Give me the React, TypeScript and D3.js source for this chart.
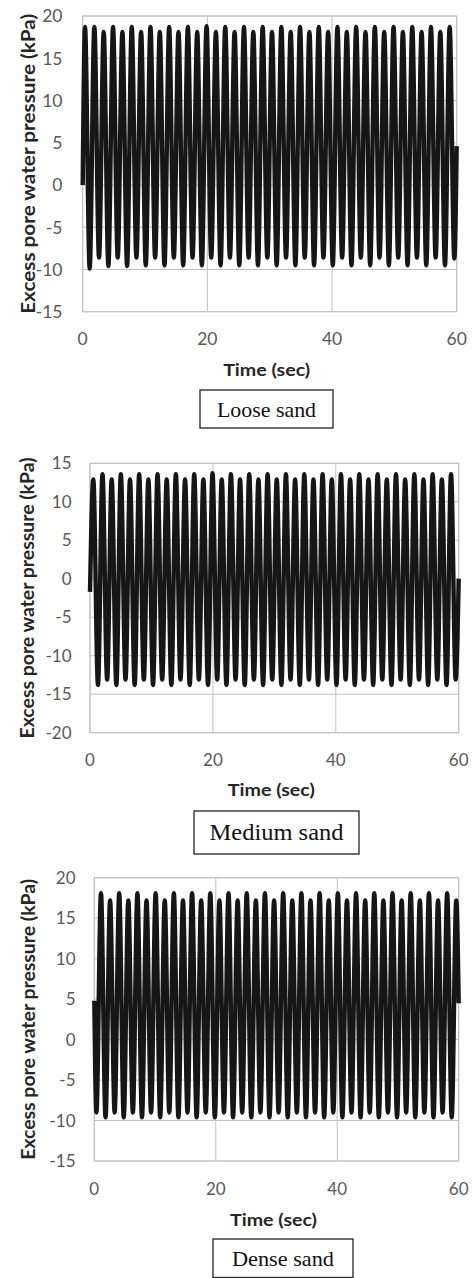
import React from 'react';
import * as d3 from 'd3';

// ---------- data ----------
const X_TICKS = [0, 20, 40, 60];
const Y_TICKS_LOOSE = [-15, -10, -5, 0, 5, 10, 15, 20];
const Y_TICKS_MEDIUM = [-20, -15, -10, -5, 0, 5, 10, 15];
const Y_TICKS_DENSE = [-15, -10, -5, 0, 5, 10, 15, 20];

const X_TITLE = 'Time (sec)';
const Y_TITLE = 'Excess pore water pressure (kPa)';
const LABELS = ['Loose sand', 'Medium sand', 'Dense sand'];

// Loose sand: start / end points, peaks and troughs (time s, kPa)
const LOOSE_START: [number, number] = [0, 0];
const LOOSE_END: [number, number] = [60, 4.6];
const LOOSE_PEAK_T = [0.37, 1.87, 3.37, 4.87, 6.37, 7.87, 9.37, 10.87, 12.37, 13.87, 15.37, 16.87, 18.37, 19.87, 21.37, 22.87, 24.37, 25.87, 27.37, 28.87, 30.37, 31.87, 33.37, 34.87, 36.37, 37.87, 39.37, 40.87, 42.37, 43.87, 45.37, 46.87, 48.37, 49.87, 51.37, 52.87, 54.37, 55.87, 57.37, 58.87];
const LOOSE_PEAK_V = [18.7, 18.7, 18.1, 18.7, 18.1, 18.7, 18.1, 18.7, 18.1, 18.7, 18.1, 18.7, 18.1, 18.8, 18.1, 18.7, 18.1, 18.7, 18.1, 18.7, 18.1, 18.7, 18.1, 18.7, 18.1, 18.7, 18.1, 18.7, 18.1, 18.7, 18.1, 18.7, 18.1, 18.7, 18.1, 18.7, 18.1, 18.7, 18.1, 18.7];
const LOOSE_TROUGH_T = [1.12, 2.62, 4.12, 5.62, 7.12, 8.62, 10.12, 11.62, 13.12, 14.62, 16.12, 17.62, 19.12, 20.62, 22.12, 23.62, 25.12, 26.62, 28.12, 29.62, 31.12, 32.62, 34.12, 35.62, 37.12, 38.62, 40.12, 41.62, 43.12, 44.62, 46.12, 47.62, 49.12, 50.62, 52.12, 53.62, 55.12, 56.62, 58.12, 59.62];
const LOOSE_TROUGH_V = [-9.9, -8.6, -9.6, -8.6, -9.6, -8.6, -9.5, -8.6, -9.5, -8.6, -9.5, -8.6, -9.5, -8.6, -9.5, -8.6, -9.5, -8.6, -9.5, -8.6, -9.5, -8.6, -9.5, -8.6, -9.5, -8.6, -9.5, -8.6, -9.5, -8.6, -9.5, -8.6, -9.5, -8.6, -9.5, -8.6, -9.5, -8.6, -9.5, -8.7];

// Medium sand
const MEDIUM_START: [number, number] = [0, -1.7];
const MEDIUM_END: [number, number] = [60, 0];
const MEDIUM_PEAK_T = [0.54, 2.03, 3.53, 5.02, 6.51, 8.0, 9.5, 10.99, 12.48, 13.97, 15.47, 16.96, 18.45, 19.94, 21.44, 22.93, 24.42, 25.91, 27.41, 28.9, 30.39, 31.88, 33.38, 34.87, 36.36, 37.85, 39.35, 40.84, 42.33, 43.82, 45.32, 46.81, 48.3, 49.79, 51.29, 52.78, 54.27, 55.76, 57.26, 58.75];
const MEDIUM_PEAK_V = [12.9, 13.6, 12.9, 13.6, 12.9, 13.6, 12.9, 13.6, 12.9, 13.6, 12.9, 13.6, 12.9, 13.7, 12.9, 13.6, 12.9, 13.6, 12.9, 13.6, 12.9, 13.6, 12.9, 13.6, 12.9, 13.6, 12.9, 13.6, 12.9, 13.6, 12.9, 13.6, 12.9, 13.6, 12.9, 13.6, 12.9, 13.6, 12.9, 13.6];
const MEDIUM_TROUGH_T = [1.3, 2.79, 4.29, 5.78, 7.27, 8.76, 10.26, 11.75, 13.24, 14.73, 16.23, 17.72, 19.21, 20.7, 22.2, 23.69, 25.18, 26.67, 28.17, 29.66, 31.15, 32.64, 34.14, 35.63, 37.12, 38.61, 40.11, 41.6, 43.09, 44.58, 46.08, 47.57, 49.06, 50.55, 52.05, 53.54, 55.03, 56.52, 58.02, 59.51];
const MEDIUM_TROUGH_V = [-13.8, -13.1, -13.8, -13.1, -13.8, -13.1, -13.8, -13.1, -13.8, -13.1, -13.8, -13.1, -13.8, -13.1, -13.8, -13.1, -13.8, -13.1, -13.8, -13.1, -13.8, -13.1, -13.8, -13.1, -13.8, -13.1, -13.8, -13.1, -13.8, -13.1, -13.8, -13.1, -13.8, -13.1, -13.8, -13.1, -13.8, -13.1, -13.8, -13.1];

// Dense sand
const DENSE_START: [number, number] = [0, 4.8];
const DENSE_END: [number, number] = [60, 4.5];
const DENSE_PEAK_T = [1.1, 2.6, 4.1, 5.6, 7.1, 8.6, 10.1, 11.6, 13.1, 14.6, 16.1, 17.6, 19.1, 20.6, 22.1, 23.6, 25.1, 26.6, 28.1, 29.6, 31.1, 32.6, 34.1, 35.6, 37.1, 38.6, 40.1, 41.6, 43.1, 44.6, 46.1, 47.6, 49.1, 50.6, 52.1, 53.6, 55.1, 56.6, 58.1, 59.6];
const DENSE_PEAK_V = [18.1, 17.2, 18.1, 17.2, 18.1, 17.2, 18.1, 17.2, 18.1, 17.2, 18.1, 17.2, 18.1, 17.2, 18.1, 17.2, 18.1, 17.2, 18.1, 17.2, 18.1, 17.2, 18.1, 17.2, 18.1, 17.2, 18.1, 17.2, 18.1, 17.2, 18.1, 17.2, 18.1, 17.2, 18.1, 17.2, 18.1, 17.2, 18.1, 17.2];
const DENSE_TROUGH_T = [0.35, 1.85, 3.35, 4.85, 6.35, 7.85, 9.35, 10.85, 12.35, 13.85, 15.35, 16.85, 18.35, 19.85, 21.35, 22.85, 24.35, 25.85, 27.35, 28.85, 30.35, 31.85, 33.35, 34.85, 36.35, 37.85, 39.35, 40.85, 42.35, 43.85, 45.35, 46.85, 48.35, 49.85, 51.35, 52.85, 54.35, 55.85, 57.35, 58.85];
const DENSE_TROUGH_V = [-9.0, -9.6, -9.0, -9.6, -9.0, -9.6, -9.0, -9.6, -9.0, -9.6, -9.0, -9.6, -9.0, -9.6, -9.0, -9.6, -9.0, -9.6, -9.0, -9.6, -9.0, -9.6, -9.0, -9.6, -9.0, -9.6, -9.0, -9.6, -9.0, -9.6, -9.0, -9.6, -9.0, -9.6, -9.0, -9.6, -9.0, -9.6, -9.0, -9.6];

// ---------- build series ----------
function buildSeries(start: [number, number], end: [number, number], pt: number[], pv: number[], tt: number[], tv: number[]): [number, number][] {
  const pts: [number, number][] = [start, end];
  pt.forEach((t, i) => pts.push([t, pv[i]]));
  tt.forEach((t, i) => pts.push([t, tv[i]]));
  pts.sort((a, b) => a[0] - b[0]);
  return pts;
}

const SERIES = [
  buildSeries(LOOSE_START, LOOSE_END, LOOSE_PEAK_T, LOOSE_PEAK_V, LOOSE_TROUGH_T, LOOSE_TROUGH_V),
  buildSeries(MEDIUM_START, MEDIUM_END, MEDIUM_PEAK_T, MEDIUM_PEAK_V, MEDIUM_TROUGH_T, MEDIUM_TROUGH_V),
  buildSeries(DENSE_START, DENSE_END, DENSE_PEAK_T, DENSE_PEAK_V, DENSE_TROUGH_T, DENSE_TROUGH_V),
];
const Y_TICKS = [Y_TICKS_LOOSE, Y_TICKS_MEDIUM, Y_TICKS_DENSE];

// ---------- layout ----------
const LAYOUT = [
  { left: 82.7, right: 456.7, top: 16, bottom: 311.7, tickRight: 62.5, tickFs: 17.5, xTickY: 339, xTitleY: 369.5, yTitleX: 28.5, yTitleLen: 300, box: { x: 200, y: 390, w: 133, h: 38 }, labelBase: 417.3, labelLen: 99, labelFs: 21.5 },
  { left: 90, right: 458.7, top: 463.3, bottom: 732.7, tickRight: 71.5, tickFs: 17, xTickY: 760, xTitleY: 790, yTitleX: 27.5, yTitleLen: 281, box: { x: 194, y: 811, w: 165, h: 43 }, labelBase: 840, labelLen: 134, labelFs: 22.5 },
  { left: 94.3, right: 458.7, top: 877.7, bottom: 1161, tickRight: 75.5, tickFs: 17, xTickY: 1189, xTitleY: 1219.5, yTitleX: 28.5, yTitleLen: 281, box: { x: 213, y: 1239, w: 140, h: 38.5 }, labelBase: 1266, labelLen: 102, labelFs: 21.5 },
];

const SANS = 'Lato, "Open Sans", sans-serif';
const SERIF = '"Liberation Serif", "DejaVu Serif", serif';
const GRID = '#c0c0c0';

function Panel({ idx }: { idx: number }) {
  const L = LAYOUT[idx];
  const ticks = Y_TICKS[idx];
  const x = d3.scaleLinear().domain([0, 60]).range([L.left, L.right]);
  const y = d3.scaleLinear().domain([ticks[0], ticks[ticks.length - 1]]).range([L.bottom, L.top]);
  const line = d3.line<[number, number]>().x(d => x(d[0])).y(d => y(d[1])).curve(d3.curveMonotoneX);
  const midY = (L.top + L.bottom) / 2;
  const midX = (L.left + L.right) / 2;
  return (
    <g>
      {ticks.map(v => (
        <line key={'h' + v} x1={L.left} x2={L.right} y1={y(v)} y2={y(v)} stroke={GRID} strokeWidth={1} />
      ))}
      {X_TICKS.map(v => (
        <line key={'v' + v} x1={x(v)} x2={x(v)} y1={L.top} y2={L.bottom} stroke={GRID} strokeWidth={1} />
      ))}
      <rect x={L.left} y={L.top} width={L.right - L.left} height={L.bottom - L.top} fill="none" stroke={GRID} strokeWidth={1} />
      <path d={line(SERIES[idx]) || ''} fill="none" stroke="#161616" strokeWidth={4.4} strokeLinejoin="round" />
      {ticks.map(v => (
        <text key={'yt' + v} x={L.tickRight} y={y(v)} dy="0.36em" textAnchor="end" fontFamily={SANS} fontSize={L.tickFs} fill="#595959">{v}</text>
      ))}
      {X_TICKS.map(v => (
        <text key={'xt' + v} x={x(v)} y={L.xTickY} dy="0.36em" textAnchor="middle" fontFamily={SANS} fontSize={L.tickFs} fill="#595959">{v}</text>
      ))}
      <text x={midX - 3} y={L.xTitleY} dy="0.36em" textAnchor="middle" fontFamily={SANS} fontWeight="bold" fontSize={17.5} fill="#262626" textLength={87} lengthAdjust="spacingAndGlyphs">{X_TITLE}</text>
      <text transform={`translate(${L.yTitleX},${midY}) rotate(-90)`} x={0} y={0} dy="0.36em" textAnchor="middle" fontFamily={SANS} fontWeight="bold" fontSize={19} fill="#262626" textLength={L.yTitleLen} lengthAdjust="spacingAndGlyphs">{Y_TITLE}</text>
      <rect x={L.box.x} y={L.box.y} width={L.box.w} height={L.box.h} fill="#fff" stroke="#222" strokeWidth={1.3} />
      <text x={L.box.x + L.box.w / 2} y={L.labelBase} textAnchor="middle" fontFamily={SERIF} fontSize={L.labelFs} fill="#111" textLength={L.labelLen} lengthAdjust="spacingAndGlyphs">{LABELS[idx]}</text>
    </g>
  );
}

export default function App() {
  return (
    <svg width={473} height={1278} viewBox="0 0 473 1278" style={{ position: 'absolute', left: 0, top: 0, background: '#fff' }}>
      <rect x={0} y={0} width={473} height={1278} fill="#fff" />
      <Panel idx={0} />
      <Panel idx={1} />
      <Panel idx={2} />
    </svg>
  );
}
